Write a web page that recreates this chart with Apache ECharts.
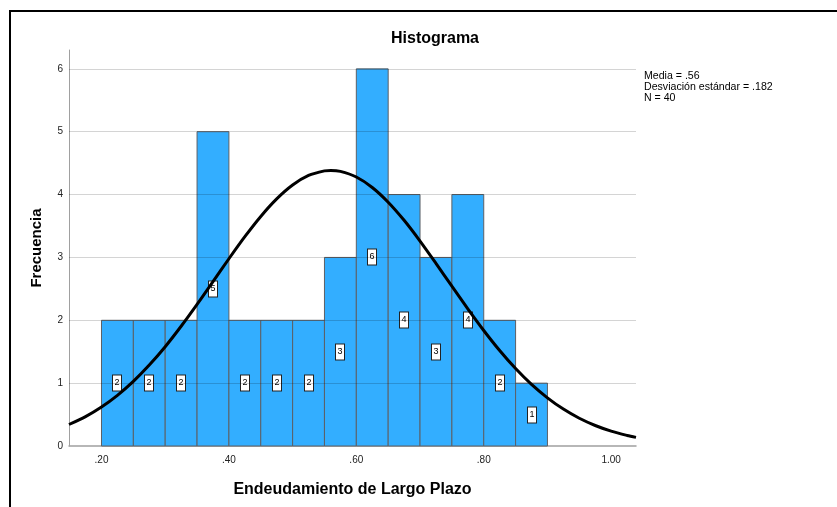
<!DOCTYPE html>
<html>
<head>
<meta charset="utf-8">
<script src="https://cdn.jsdelivr.net/npm/echarts@6/dist/echarts.min.js"></script>
<style>
html,body{margin:0;padding:0;background:#fff;}
#chart{width:837px;height:507px;}
</style>
</head>
<body>
<div id="chart"></div>
<script>
// ---- data ----
const binLower = [0.20,0.25,0.30,0.35,0.40,0.45,0.50,0.55,0.60,0.65,0.70,0.75,0.80,0.85];
const binUpper = [0.25,0.30,0.35,0.40,0.45,0.50,0.55,0.60,0.65,0.70,0.75,0.80,0.85,0.90];
const counts   = [2,2,2,5,2,2,2,3,6,4,3,4,2,1];

// normal curve
const curveX = [0.149,0.175,0.20,0.225,0.25,0.275,0.30,0.325,0.35,0.375,0.40,0.425,0.45,0.475,0.50,0.525,0.55,0.56,0.575,0.60,0.625,0.65,0.675,0.70,0.725,0.75,0.775,0.80,0.825,0.85,0.875,0.90,0.925,0.95,0.975,1.00,1.025,1.039];
const curveY = [0.342,0.468,0.620,0.806,1.028,1.287,1.580,1.905,2.253,2.615,2.979,3.330,3.652,3.931,4.152,4.304,4.377,4.384,4.369,4.279,4.113,3.879,3.591,3.261,2.906,2.542,2.182,1.838,1.519,1.232,0.980,0.766,0.587,0.441,0.326,0.236,0.168,0.137];

const xTickValues = [0.2,0.4,0.6,0.8,1.0];
const xTickLabels = ['.20','.40','.60','.80','1.00'];
const yTickValues = [0,1,2,3,4,5,6];

const titleText = 'Histograma';
const xName = 'Endeudamiento de Largo Plazo';
const yName = 'Frecuencia';
const statsLines = ['Media = .56','Desviación estándar = .182','N = 40'];

// ---- chart ----
const FONT = '"Liberation Sans", Arial, Helvetica, sans-serif';
const chart = echarts.init(document.getElementById('chart'), null, {renderer:'canvas'});

const histData = binLower.map((lo,i)=>[lo, binUpper[i], counts[i]]);
const curveData = curveX.map((x,i)=>[x, curveY[i]]);

const option = {
  animation: false,
  backgroundColor: '#fff',
  title: {
    text: titleText,
    left: 430, top: 26, textAlign: 'center',
    textStyle: {fontFamily: FONT, fontSize: 16, fontWeight: 'bold', color: '#000'}
  },
  grid: {left: 69, right: 201, top: 50, bottom: 61},
  xAxis: {
    type: 'value',
    min: 0.149, max: 1.039,
    name: xName,
    nameLocation: 'middle',
    nameGap: 36,
    nameTextStyle: {fontFamily: FONT, fontSize: 16, fontWeight: 'bold', color: '#000'},
    axisLine: {show: true, onZero: false, lineStyle: {color: '#a0a0a0', width: 1.5}},
    axisTick: {show: false},
    splitLine: {show: false},
    axisLabel: {
      customValues: xTickValues,
      margin: 9,
      fontFamily: FONT, fontSize: 10, color: '#222',
      formatter: function(v){
        const i = xTickValues.findIndex(t => Math.abs(t - v) < 1e-6);
        return i >= 0 ? xTickLabels[i] : '';
      }
    }
  },
  yAxis: {
    type: 'value',
    min: 0, max: 6.3,
    name: yName,
    nameLocation: 'middle',
    nameGap: 25,
    nameRotate: 90,
    nameTextStyle: {fontFamily: FONT, fontSize: 15, fontWeight: 'bold', color: '#000'},
    axisLine: {show: true, lineStyle: {color: '#a0a0a0', width: 1}},
    axisTick: {show: false},
    splitLine: {show: false},
    axisLabel: {
      customValues: yTickValues,
      margin: 6,
      fontFamily: FONT, fontSize: 10, color: '#222'
    }
  },
  graphic: [
    {
      type: 'rect', silent: true, z: 100,
      shape: {x: 10, y: 11, width: 1200, height: 1200},
      style: {fill: 'none', stroke: '#000', lineWidth: 2}
    },
    {
      type: 'text', left: 644, top: 71, z: 100,
      style: {
        text: statsLines.join('\n'),
        fontFamily: FONT, fontSize: 10.6, lineHeight: 11, fill: '#000'
      }
    }
  ],
  series: [
    {
      type: 'custom',
      data: histData,
      encode: {x: [0,1], y: 2},
      z: 2,
      renderItem: function(params, api){
        const lo = api.value(0), hi = api.value(1), c = api.value(2);
        const p0 = api.coord([lo, 0]);
        const p1 = api.coord([hi, c]);
        const mid = api.coord([(lo + hi) / 2, c / 2]);
        return {
          type: 'group',
          children: [
            {
              type: 'rect',
              shape: {x: p0[0], y: p1[1], width: p1[0] - p0[0], height: p0[1] - p1[1]},
              style: {fill: '#33aeff', stroke: '#5c6066', lineWidth: 1}
            },
            {
              type: 'text',
              x: Math.round(mid[0]), y: Math.round(mid[1]),
              z2: 10,
              style: {
                text: String(c),
                fill: '#000',
                fontFamily: FONT, fontSize: 9, lineHeight: 10,
                align: 'center', verticalAlign: 'middle',
                backgroundColor: '#fff',
                borderColor: '#222', borderWidth: 1,
                padding: [3, 1.5, 2, 1.5]
              }
            }
          ]
        };
      }
    },
    {
      type: 'line',
      data: curveData,
      showSymbol: false,
      symbol: 'none',
      smooth: 0.3,
      z: 5,
      silent: true,
      lineStyle: {color: '#000', width: 3},
      markLine: {
        silent: true,
        symbol: ['none','none'],
        label: {show: false},
        lineStyle: {color: 'rgba(0,0,0,0.17)', type: 'solid', width: 1},
        emphasis: {disabled: true},
        data: yTickValues.filter(v => v > 0).map(v => ({yAxis: v}))
      }
    }
  ]
};
chart.setOption(option);
</script>
</body>
</html>
